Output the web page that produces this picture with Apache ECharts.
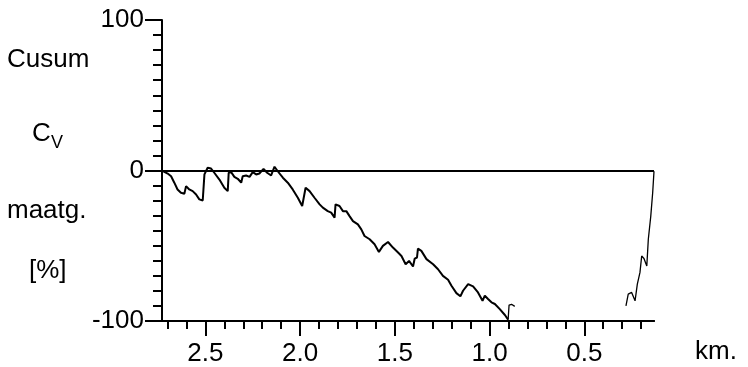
<!DOCTYPE html>
<html><head><meta charset="utf-8">
<script src="https://cdn.jsdelivr.net/npm/echarts@6/dist/echarts.min.js"></script>
<style>html,body{margin:0;padding:0;background:#fff}#c{width:748px;height:367px}</style>
</head><body><div id="c"></div>
<script>
// main cusum trace (km, %)
var kmA = [2.729,2.699,2.681,2.664,2.647,2.629,2.611,2.602,2.585,2.567,2.549,2.532,2.514,2.505,2.488,2.470,2.453,2.426,2.400,2.382,2.377,2.364,2.347,2.329,2.311,2.303,2.285,2.267,2.250,2.232,2.215,2.193,2.174,2.153,2.135,2.118,2.091,2.065,2.039,2.012,1.989,1.971,1.950,1.924,1.897,1.880,1.854,1.836,1.818,1.813,1.792,1.774,1.756,1.739,1.721,1.695,1.677,1.660,1.633,1.607,1.584,1.563,1.536,1.510,1.483,1.465,1.443,1.425,1.404,1.395,1.383,1.378,1.360,1.333,1.298,1.272,1.246,1.219,1.201,1.175,1.154,1.140,1.113,1.087,1.061,1.037,1.025,1.008,0.990,0.972,0.946,0.919,0.902];
var valA = [0,-2.0,-3.8,-8.1,-12.6,-14.8,-15.4,-10.4,-12.6,-13.7,-15.9,-19.2,-19.9,-2.6,1.8,1.3,-1.5,-6.0,-11.5,-13.7,-1.5,-1.1,-4.2,-5.5,-8.1,-3.8,-3.3,-4.2,-1.1,-2.6,-2.0,1.1,-1.5,-3.3,2.5,-0.5,-4.8,-8.1,-12.6,-18.1,-23.6,-11.5,-13.7,-18.1,-22.5,-24.7,-27.0,-28.0,-31.3,-22.5,-23.6,-27.0,-27.0,-30.3,-33.6,-35.8,-39.1,-43.5,-45.7,-49.0,-54.1,-50.1,-47.5,-51.2,-54.5,-56.8,-62.3,-60.1,-63.8,-58.5,-57.8,-51.9,-53.4,-58.9,-62.3,-65.6,-70.0,-72.6,-76.6,-81.5,-83.6,-79.9,-75.5,-77.0,-81.0,-86.6,-83.2,-85.4,-87.6,-88.7,-92.1,-96.0,-99.1];
// short tail after the reset near 0.9 km
var kmB = [0.902,0.897,0.884,0.867];
var valB = [-99.1,-89.4,-88.9,-90.3];
// segment near the end of the section
var kmC = [0.280,0.268,0.250,0.232,0.220,0.206,0.197,0.185,0.170,0.162,0.149,0.139,0.132];
var valC = [-89.9,-82.1,-81.0,-86.6,-75.5,-67.7,-56.8,-58.5,-63.4,-45.7,-30.3,-14.8,-0.5];
// axes
var xMin = 0.132, xMax = 2.729;
var xMinorTicks = [0.2,0.3,0.4,0.6,0.7,0.8,0.9,1.1,1.2,1.3,1.4,1.6,1.7,1.8,1.9,2.1,2.2,2.3,2.4,2.6,2.7];
var xMajorTicks = [0.5,1.0,1.5,2.0,2.5];
var yMin = -100, yMax = 100, yStep = 100;

function zip(a,b){return a.map(function(v,i){return [v,b[i]];});}
var FONT = '"Liberation Sans", Arial, sans-serif';
var FS = 26;
var chart = echarts.init(document.getElementById('c'), null, {renderer:'canvas'});
var axLine = {show:true, onZero:false, lineStyle:{color:'#000', width:2}};
chart.setOption({
  animation:false,
  backgroundColor:'#fff',
  grid:{left:162, top:20, width:492, height:301},
  xAxis:[
    {type:'value', min:xMin, max:xMax, inverse:true, position:'bottom',
     axisLine:axLine, splitLine:{show:false},
     axisTick:{show:true, inside:false, length:8, customValues:xMinorTicks, lineStyle:{color:'#000', width:2}},
     axisLabel:{show:false}},
    {type:'value', min:xMin, max:xMax, inverse:true, position:'bottom', gridIndex:0,
     axisLine:axLine, splitLine:{show:false},
     axisTick:{show:true, inside:false, length:15, customValues:xMajorTicks, lineStyle:{color:'#000', width:2}},
     axisLabel:{show:true, customValues:xMajorTicks, margin:20, color:'#000', fontSize:FS, fontFamily:FONT,
       formatter:function(v){return v.toFixed(1);}}}
  ],
  yAxis:{type:'value', min:yMin, max:yMax, interval:yStep,
     axisLine:axLine, splitLine:{show:false},
     axisTick:{show:true, inside:false, length:17, lineStyle:{color:'#000', width:2}},
     minorTick:{show:true, splitNumber:10, length:9, lineStyle:{color:'#000', width:2}},
     axisLabel:{margin:18, color:'#000', fontSize:FS, fontFamily:FONT}},
  series:[
    {type:'line', xAxisIndex:0, data:zip(kmA,valA), showSymbol:false, symbol:'none',
     lineStyle:{color:'#000', width:2},
     markLine:{silent:true, symbol:'none', label:{show:false}, lineStyle:{color:'#000', width:2, type:'solid'},
       data:[{yAxis:0}]}},
    {type:'line', xAxisIndex:0, data:zip(kmB,valB), showSymbol:false, symbol:'none', lineStyle:{color:'#000', width:1.3}},
    {type:'line', xAxisIndex:0, data:zip(kmC,valC), showSymbol:false, symbol:'none', lineStyle:{color:'#000', width:1.3}}
  ],
  graphic:[
    {type:'text', left:7, top:47, style:{text:'Cusum', font:FS+'px '+FONT, fill:'#000'}},
    {type:'text', left:32, top:121, style:{text:'C', font:FS+'px '+FONT, fill:'#000'}},
    {type:'text', left:51, top:134, style:{text:'V', font:'18px '+FONT, fill:'#000'}},
    {type:'text', left:7, top:198, style:{text:'maatg.', font:FS+'px '+FONT, fill:'#000'}},
    {type:'text', left:29, top:258, style:{text:'[%]', font:FS+'px '+FONT, fill:'#000'}},
    {type:'text', left:695, top:339, style:{text:'km.', font:FS+'px '+FONT, fill:'#000'}}
  ]
});
</script></body></html>
